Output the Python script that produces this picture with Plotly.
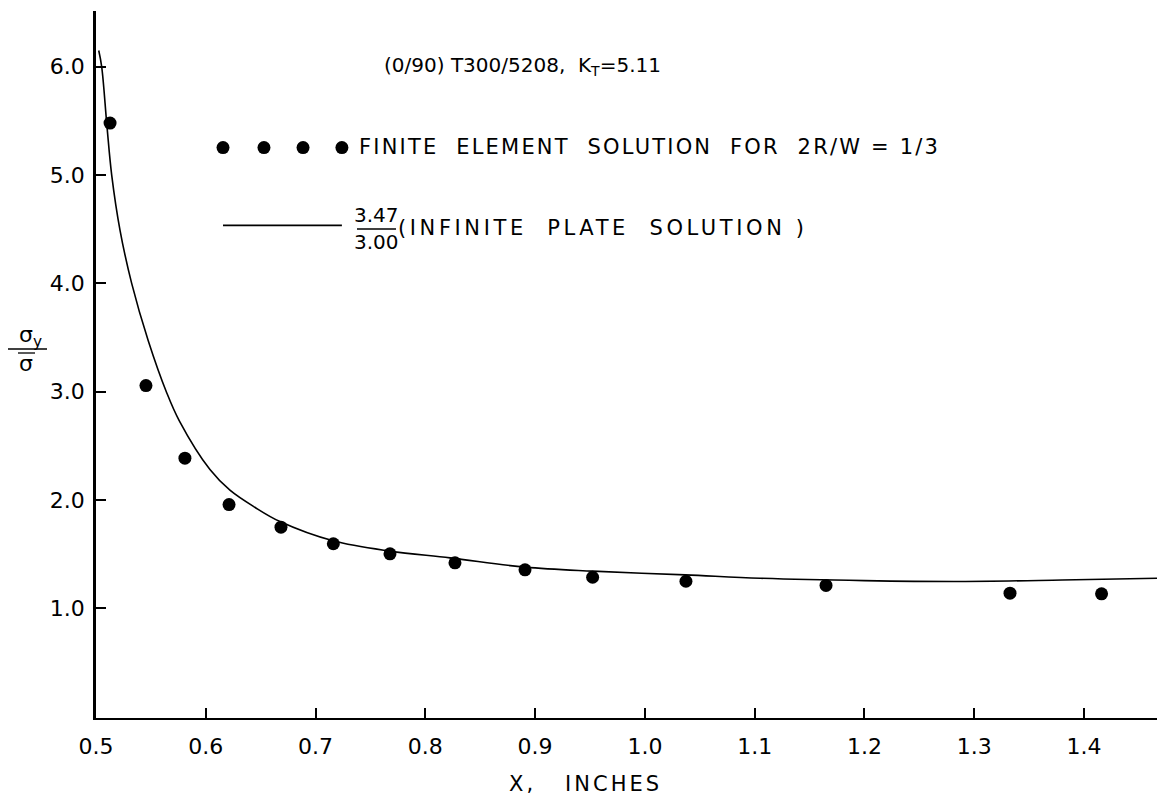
import plotly.graph_objects as go

# ---- data ----
fe_x = [0.5128, 0.5455, 0.581, 0.6212, 0.6685, 0.7162, 0.7678, 0.827, 0.8908, 0.9524, 1.0374, 1.165, 1.3326, 1.416]
fe_y = [5.48, 3.056, 2.385, 1.957, 1.748, 1.595, 1.502, 1.419, 1.354, 1.286, 1.249, 1.21, 1.139, 1.133]

inf_x = [0.5025, 0.5052, 0.51, 0.5143, 0.5219, 0.5325, 0.5476, 0.5644, 0.5759, 0.6038, 0.622, 0.645, 0.6676,
         0.716, 0.768, 0.8225, 0.8908, 0.9524, 1.037, 1.105, 1.2, 1.287, 1.38, 1.4665]
inf_y = [6.15, 6.0, 5.45, 5.0, 4.49, 4.0, 3.47, 2.99, 2.73, 2.28, 2.09, 1.93, 1.80,
         1.622, 1.527, 1.465, 1.379, 1.342, 1.308, 1.277, 1.255, 1.247, 1.26, 1.277]

x_ticks = [0.5, 0.6, 0.7, 0.8, 0.9, 1.0, 1.1, 1.2, 1.3, 1.4]
x_tick_text = ["0.5", "0.6", "0.7", "0.8", "0.9", "1.0", "1.1", "1.2", "1.3", "1.4"]
y_ticks = [1, 2, 3, 4, 5, 6]
y_tick_text = ["1.0", "2.0", "3.0", "4.0", "5.0", "6.0"]

# legend sample (data coordinates)
leg_dot_x = [0.6157, 0.653, 0.6886, 0.724]
leg_dot_y = [5.254, 5.254, 5.254, 5.254]
leg_line_x = [0.6157, 0.724]
leg_line_y = [4.535, 4.535]

W, H = 1157, 803
L, R, T, B = 96, 1157, 11, 718

def px(x):
    return (x - L) / (R - L)

def py(y):
    return (B - y) / (B - T)

FONT = "DejaVu Sans"

fig = go.Figure()
fig.add_trace(go.Scatter(x=inf_x, y=inf_y, mode="lines",
                         line=dict(color="black", width=1.6, shape="spline", smoothing=1.0),
                         showlegend=False, hoverinfo="skip"))
fig.add_trace(go.Scatter(x=fe_x, y=fe_y, mode="markers", marker=dict(color="black", size=13),
                         showlegend=False))
fig.add_trace(go.Scatter(x=leg_dot_x, y=leg_dot_y, mode="markers", marker=dict(color="black", size=13),
                         showlegend=False, hoverinfo="skip"))
fig.add_trace(go.Scatter(x=leg_line_x, y=leg_line_y, mode="lines", line=dict(color="black", width=1.6),
                         showlegend=False, hoverinfo="skip"))

annots = []
def txt(text, x, y, xanchor="left", size=21, spacing=None):
    if spacing:
        text = '<span style="letter-spacing:%spx">%s</span>' % (spacing, text)
    annots.append(dict(text=text, x=px(x), y=py(y), xref="paper", yref="paper", xanchor=xanchor,
                       yanchor="middle", showarrow=False, font=dict(family=FONT, size=size, color="black")))

txt("(0/90) T300/5208,  K<sub>T</sub>=5.11", 382, 66, size=20)
txt("FINITE  ELEMENT  SOLUTION  FOR  2R/W = 1/3", 357, 147, size=21, spacing=2.2)
txt("3.47", 376, 215, xanchor="center", size=20)
txt("3.00", 376, 242, xanchor="center", size=20)
txt("(INFINITE  PLATE  SOLUTION )", 396, 228, size=21, spacing=3.6)
txt("X,   INCHES", 585, 784, xanchor="center", size=21, spacing=3)
txt("σ<sub>y</sub>", 30, 336, xanchor="center", size=22)
txt("σ", 26, 363, xanchor="center", size=22)

shapes = [
    dict(type="line", xref="paper", yref="paper", x0=px(357), x1=px(396), y0=py(229), y1=py(229),
         line=dict(color="black", width=1.5)),
    dict(type="line", xref="paper", yref="paper", x0=px(8), x1=px(47), y0=py(349), y1=py(349),
         line=dict(color="black", width=1.5)),
    dict(type="line", xref="paper", yref="paper", x0=px(18), x1=px(35), y0=py(353), y1=py(353),
         line=dict(color="black", width=1.3)),
]

fig.update_layout(
    width=W, height=H,
    margin=dict(l=L, r=W - R, t=T, b=H - B),
    paper_bgcolor="white", plot_bgcolor="white",
    annotations=annots, shapes=shapes,
    showlegend=False,
    font=dict(family=FONT, size=21, color="black"),
)
fig.update_xaxes(range=[0.5, 1.4665], tickvals=x_ticks, ticktext=x_tick_text, ticks="inside", ticklen=10,
                 tickwidth=1.5, tickcolor="black", showline=True, linecolor="black", linewidth=2,
                 showgrid=False, zeroline=False, ticklabelstandoff=8,
                 tickfont=dict(family=FONT, size=22, color="black"))
fig.update_yaxes(range=[-0.014, 6.515], tickvals=y_ticks, ticktext=y_tick_text, ticks="inside", ticklen=10,
                 tickwidth=1.5, tickcolor="black", showline=True, linecolor="black", linewidth=2.5,
                 showgrid=False, zeroline=False, ticklabelstandoff=4,
                 tickfont=dict(family=FONT, size=22, color="black"))

fig.write_html("out.html")
